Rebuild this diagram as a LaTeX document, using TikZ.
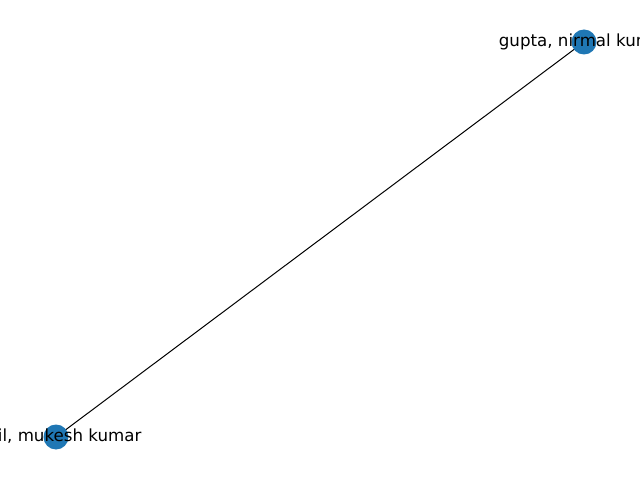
\documentclass[tikz,border=0pt]{standalone}
\usepackage{fontspec}
\setmainfont{DejaVu Sans}
\definecolor{nxblue}{HTML}{1F77B4}
\begin{document}
\begin{tikzpicture}[x=1pt,y=1pt,
  vertex/.style={circle,fill=nxblue,draw=none,minimum size=25pt,inner sep=0pt},
  lab/.style={font=\fontsize{16.67}{18}\selectfont,text=black,inner sep=0pt},
  edgeline/.style={draw=black,line width=1pt}]
\useasboundingbox (0,0) rectangle (640,480);
\clip (0,0) rectangle (640,480);
\coordinate (pa) at (56,43);
\coordinate (pb) at (584,438);
\draw[edgeline] (pa) -- (pb);
\node[vertex] (a) at (pa) {};
\node[vertex] (b) at (pb) {};
\node[lab] (la) at (a) {patil, mukesh kumar};
\node[lab] (lb) at (b) {gupta, nirmal kumar};
\end{tikzpicture}
\end{document}
